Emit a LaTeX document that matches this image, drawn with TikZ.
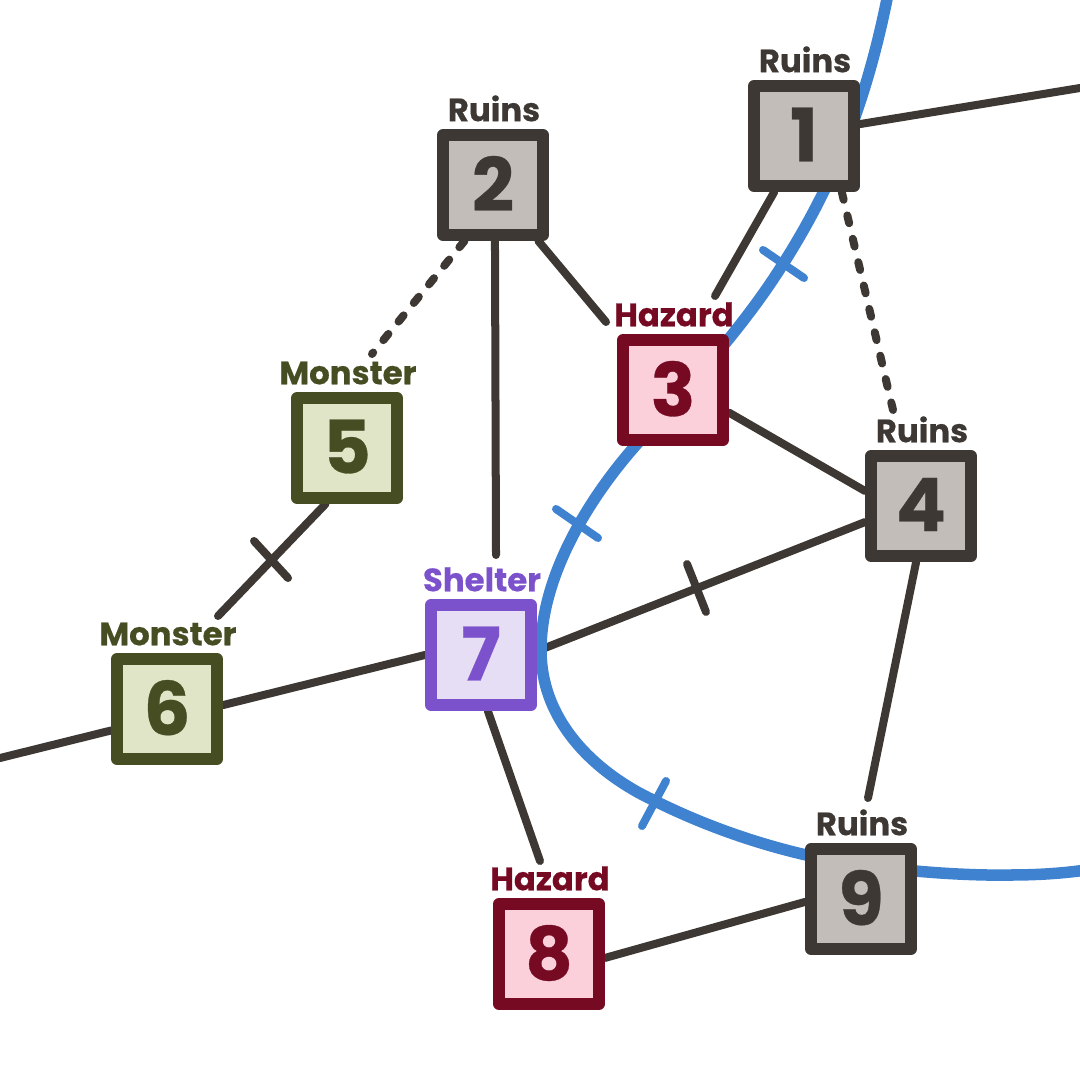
\documentclass[tikz,border=0pt]{standalone}
\usepackage{fontspec}
\setmainfont{Poppins}[BoldFont={Poppins Bold}, BoldFeatures={FakeBold=0.4}]
\usetikzlibrary{positioning, backgrounds}

\definecolor{stone}{HTML}{3D3833}
\definecolor{stonefill}{HTML}{C2BDB9}
\definecolor{hazard}{HTML}{750A22}
\definecolor{hazardfill}{HTML}{FBD0DB}
\definecolor{monster}{HTML}{464D22}
\definecolor{monsterfill}{HTML}{E0E5C8}
\definecolor{shelter}{HTML}{7B52CC}
\definecolor{shelterfill}{HTML}{E6DEF5}
\definecolor{river}{HTML}{3F82CF}

\tikzset{
    room/.style={draw, line width=0.125cm, line join=round, minimum size=0.995cm, inner sep=0pt,
        text depth=0.03cm, font=\fontsize{21}{21}\selectfont\bfseries},
    ruinsroom/.style={room, draw=stone, fill=stonefill, text=stone},
    hazardroom/.style={room, draw=hazard, fill=hazardfill, text=hazard},
    monsterroom/.style={room, draw=monster, fill=monsterfill, text=monster},
    shelterroom/.style={room, draw=shelter, fill=shelterfill, text=shelter},
    tag/.style={inner sep=0pt, text depth=0pt, xshift=0.01cm, font=\fontsize{9.2}{9.2}\selectfont\bfseries},
    path/.style={draw=stone, line width=0.08cm, line cap=round},
    secret/.style={path, dash pattern=on 0.08cm off 0.16cm},
    riverline/.style={draw=river, line width=0.115cm},
    rivertick/.style={draw=river, line width=0.08cm, line cap=round},
}

\begin{document}
\begin{tikzpicture}[x=0.01cm, y=-0.01cm, node distance=0.07cm]

    % Keep the page at the size of the reference
    \useasboundingbox (0,0) rectangle (1080,1080);

    % The rooms
    \node[ruinsroom] (n1) at (804,136) {1};
    \node[ruinsroom] (n2) at (493,185) {2};
    \node[hazardroom] (n3) at (673,390) {3};
    \node[ruinsroom] (n4) at (921,506) {4};
    \node[monsterroom] (n5) at (347,448) {5};
    \node[monsterroom] (n6) at (167,709) {6};
    \node[shelterroom] (n7) at (481,655) {7};
    \node[hazardroom] (n8) at (549,954) {8};
    \node[ruinsroom] (n9) at (861,899) {9};

    % The tags above the rooms
    \node[tag, text=stone, above=of n1] (tag1) {Ruins};
    \node[tag, text=stone, above=of n2] (tag2) {Ruins};
    \node[tag, text=hazard, above=of n3] (tag3) {Hazard};
    \node[tag, text=stone, above=of n4] (tag4) {Ruins};
    \node[tag, text=monster, above=of n5] (tag5) {Monster};
    \node[tag, text=monster, above=of n6] (tag6) {Monster};
    \node[tag, text=shelter, above=of n7] (tag7) {Shelter};
    \node[tag, text=hazard, above=of n8] (tag8) {Hazard};
    \node[tag, text=stone, above=of n9] (tag9) {Ruins};

    % Free ends of the paths, they stop short of the tags or run off the page
    \coordinate (E1) at (1080,88);
    \coordinate (E13) at (715,296);
    \coordinate (E14) at (893,410);
    \coordinate (E23) at (606,322);
    \coordinate (E25) at (372,354);
    \coordinate (E27) at (496,555);
    \coordinate (E49) at (868,798);
    \coordinate (E56) at (218,616);
    \coordinate (E6) at (0,758);
    \coordinate (E78) at (540,861);

    % Everything that passes behind the rooms
    \begin{scope}[on background layer]
        \draw[path] (n1.12) -- (E1);
        \draw[path] (n1.242) -- (E13);
        \draw[secret] (n1.-56) -- (E14);
        \draw[path] (n2.-51) -- (E23);
        \draw[secret] (n2.243) -- (E25);
        \draw[path] (n2.-88) -- (E27);
        \draw[path] (n3.-22) -- (n4.165);
        \draw[path] (n4.196) -- (n7.4);
        \draw[path] (n4.265) -- (E49);
        \draw[path] (n5.249) -- (E56);
        \draw[path] (n6.4) -- (n7.180);
        \draw[path] (n6.201) -- (E6);
        \draw[path] (n7.-83) -- (E78);
        \draw[path] (n8.-4) -- (n9.183);

        % The river
        \draw[riverline] (888,-6) .. controls (865,110) and (830,190) .. (783,264)
            .. controls (740,333) and (680,395) .. (636,445)
            .. controls (590,497) and (541,575) .. (541,650)
            .. controls (541,725) and (600,775) .. (653,800)
            .. controls (705,826) and (760,845) .. (815,857)
            .. controls (880,870) and (960,876) .. (1010,875)
            .. controls (1040,875) and (1065,873) .. (1086,870);
    \end{scope}

    % Crossing marks on the paths
    \coordinate (M_56) at (271,559);
    \draw[path] (M_56) ++(-17,-18) -- ++(34,37);
    \coordinate (M_47) at (696,588);
    \draw[path] (M_47) ++(-9,-24) -- ++(19,48);

    % Crossing marks on the river
    \coordinate (M_R1) at (783,264);
    \draw[rivertick] (M_R1) ++(-20,-14) -- ++(41,28);
    \coordinate (M_R2) at (577,524);
    \draw[rivertick] (M_R2) ++(-21,-15) -- ++(42,29);
    \coordinate (M_R3) at (654,803);
    \draw[rivertick] (M_R3) ++(12,-22) -- ++(-24,45);

\end{tikzpicture}
\end{document}
